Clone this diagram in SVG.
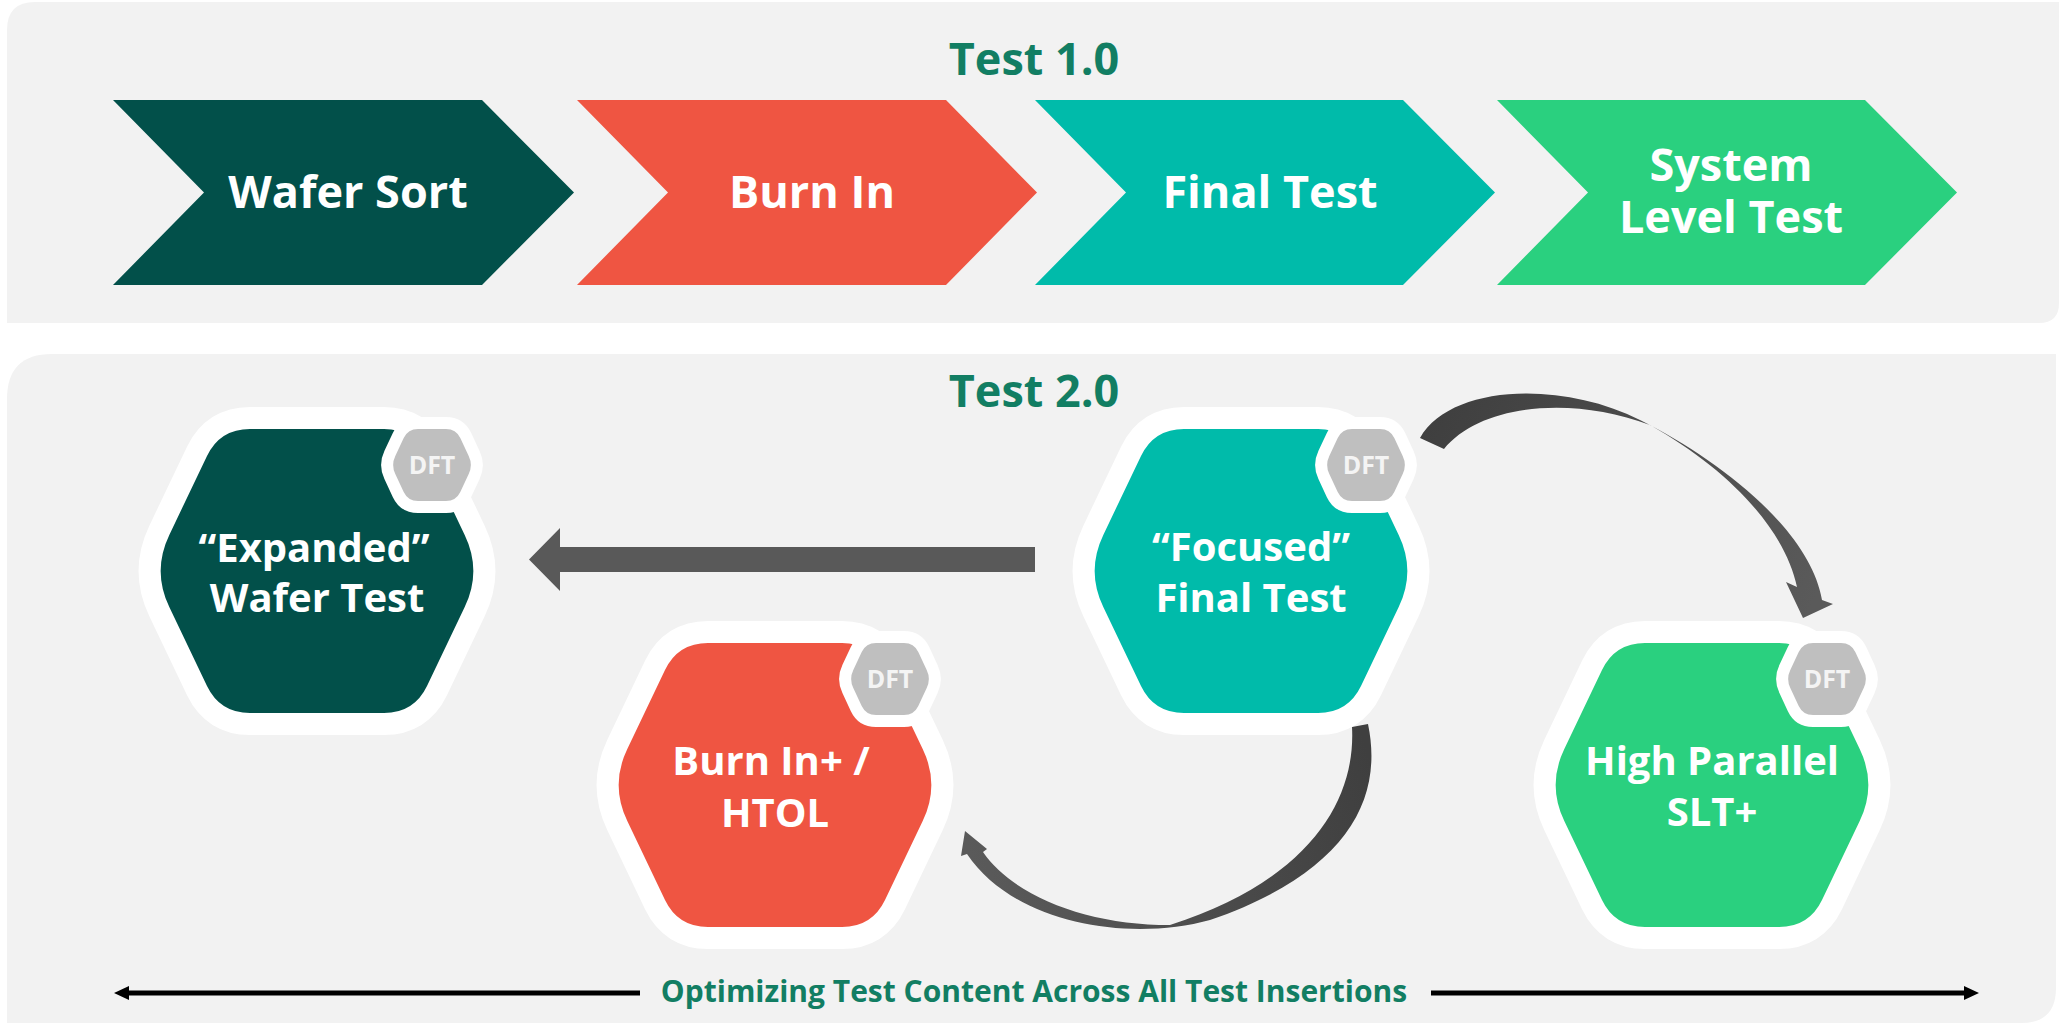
<svg xmlns="http://www.w3.org/2000/svg" xmlns:xlink="http://www.w3.org/1999/xlink" width="2059" height="1023" viewBox="0 0 2059 1023">
  <style>
    text { font-family: "Open Sans", "Liberation Sans", sans-serif; font-weight: 700; text-anchor: middle; }
    .panel { fill: #f2f2f2; }
    .title { font-size: 45px; fill: #127e63; }
    .chev-t { font-size: 45px; fill: #ffffff; }
    .hex-t { font-size: 40px; fill: #ffffff; }
    .dft-t { font-size: 25px; fill: #f4f4f4; }
    .foot { font-size: 30px; fill: #127e63; }
    .hexbody { stroke: #ffffff; stroke-width: 44; stroke-linejoin: round; paint-order: stroke; }
    .badge { fill: #bfbfbf; stroke: #ffffff; stroke-width: 24; stroke-linejoin: round; paint-order: stroke; }
    .dk { fill: #02504a; }
    .rd { fill: #ef5542; }
    .tl { fill: #00bbaa; }
    .gr { fill: #2ad07f; }
  </style>
  <defs>
    <path id="hex" d="M -67,-142 L 67,-142 Q 97,-142 110,-115 L 147.7,-36.1 Q 165,0 147.7,36.1 L 110,115 Q 97,142 67,142 L -67,142 Q -97,142 -110,115 L -147.7,36.1 Q -165,0 -147.7,-36.1 L -110,-115 Q -97,-142 -67,-142 Z"/>
    <path id="badge" d="M -14,-36 L 14,-36 Q 24,-36 28.3,-27 L 36.7,-9 Q 41,0 36.7,9 L 28.3,27 Q 24,36 14,36 L -14,36 Q -24,36 -28.3,27 L -36.7,9 Q -41,0 -36.7,-9 L -28.3,-27 Q -24,-36 -14,-36 Z"/>
    <linearGradient id="gTop" gradientUnits="userSpaceOnUse" x1="1420" y1="440" x2="1810" y2="610">
      <stop offset="0" stop-color="#3f3f3f"/>
      <stop offset="1" stop-color="#5a5a5a"/>
    </linearGradient>
    <linearGradient id="gBot" gradientUnits="userSpaceOnUse" x1="1360" y1="725" x2="965" y2="840">
      <stop offset="0" stop-color="#3f3f3f"/>
      <stop offset="1" stop-color="#5a5a5a"/>
    </linearGradient>
    <marker id="ah" markerUnits="userSpaceOnUse" markerWidth="16" markerHeight="16" refX="5" refY="7" orient="auto">
      <path d="M0,0 L15,7 L0,14 Z" fill="#000000"/>
    </marker>
  </defs>

  <rect width="2059" height="1023" fill="#ffffff"/>

  <g id="panels">
    <path class="panel" d="M 7,30 Q 7,2 35,2 L 2059,2 L 2059,303 Q 2059,323 2039,323 L 7,323 Z"/>
    <path class="panel" d="M 7,399 Q 7,354 52,354 L 2056,354 L 2056,988 Q 2056,1023 2021,1023 L 7,1023 Z"/>
  </g>

  <g id="titles">
    <text class="title" x="1034" y="75">Test 1.0</text>
    <text class="title" x="1034" y="407">Test 2.0</text>
  </g>

  <g id="chevron-wafer-sort">
    <path class="dk" d="M 113,100 L 482,100 L 574,192.5 L 482,285 L 113,285 L 204,192.5 Z"/>
    <text class="chev-t" x="348" y="208">Wafer Sort</text>
  </g>
  <g id="chevron-burn-in">
    <path class="rd" d="M 577,100 L 946,100 L 1037,192.5 L 946,285 L 577,285 L 668,192.5 Z"/>
    <text class="chev-t" x="812" y="208">Burn In</text>
  </g>
  <g id="chevron-final-test">
    <path class="tl" d="M 1035,100 L 1403,100 L 1495,192.5 L 1403,285 L 1035,285 L 1126,192.5 Z"/>
    <text class="chev-t" x="1270" y="208">Final Test</text>
  </g>
  <g id="chevron-slt">
    <path class="gr" d="M 1497,100 L 1865,100 L 1957,192.5 L 1865,285 L 1497,285 L 1588,192.5 Z"/>
    <text class="chev-t" x="1731" y="181">System<tspan x="1731" y="233">Level Test</tspan></text>
  </g>

  <g id="connectors">
    <path id="arrow-focused-to-expanded" fill="#595959" d="M 1035,547 L 560,547 L 560,528 L 529,559.5 L 560,591 L 560,572 L 1035,572 Z"/>
    <path id="arrow-focused-to-slt" fill="url(#gTop)" d="M 1420,438 C 1450,385 1560,380 1640,420 C 1720,460 1810,530 1822,600 L 1833,604 L 1803,618 L 1786,582 L 1797,587 C 1785,530 1730,470 1650,425 C 1570,395 1480,405 1444,449 Z"/>
    <path id="arrow-focused-to-burnin" fill="url(#gBot)" d="M 1352,727 L 1368,724 C 1385,805 1340,875 1210,920 C 1130,942 1015,925 967,854 L 961,856 L 965,831 L 987,849 L 983,852 C 1015,898 1090,925 1170,925 C 1310,880 1356,800 1352,727 Z"/>
    <line x1="640" y1="993" x2="124" y2="993" stroke="#000000" stroke-width="5" marker-end="url(#ah)"/>
    <line x1="1431" y1="993" x2="1969" y2="993" stroke="#000000" stroke-width="5" marker-end="url(#ah)"/>
  </g>

  <g id="node-expanded-wafer-test" transform="translate(317,571)">
    <use xlink:href="#hex" class="hexbody dk"/>
    <use xlink:href="#badge" class="badge" x="115" y="-106"/>
    <text class="dft-t" x="115" y="-97">DFT</text>
    <text class="hex-t" x="-3" y="-9">“Expanded”</text>
    <text class="hex-t" x="0" y="41">Wafer Test</text>
  </g>

  <g id="node-focused-final-test" transform="translate(1251,571)">
    <use xlink:href="#hex" class="hexbody tl"/>
    <use xlink:href="#badge" class="badge" x="115" y="-106"/>
    <text class="dft-t" x="115" y="-97">DFT</text>
    <text class="hex-t" x="0" y="-10">“Focused”</text>
    <text class="hex-t" x="0" y="41">Final Test</text>
  </g>

  <g id="node-burn-in-htol" transform="translate(775,785)">
    <use xlink:href="#hex" class="hexbody rd"/>
    <use xlink:href="#badge" class="badge" x="115" y="-106"/>
    <text class="dft-t" x="115" y="-97">DFT</text>
    <text class="hex-t" x="-4" y="-10">Burn In+ /</text>
    <text class="hex-t" x="0" y="42">HTOL</text>
  </g>

  <g id="node-high-parallel-slt" transform="translate(1712,785)">
    <use xlink:href="#hex" class="hexbody gr"/>
    <use xlink:href="#badge" class="badge" x="115" y="-106"/>
    <text class="dft-t" x="115" y="-97">DFT</text>
    <text class="hex-t" x="0" y="-10">High Parallel</text>
    <text class="hex-t" x="0" y="41">SLT+</text>
  </g>

  <g id="footer">
    <text class="foot" x="1034" y="1002">Optimizing Test Content Across All Test Insertions</text>
  </g>
</svg>
